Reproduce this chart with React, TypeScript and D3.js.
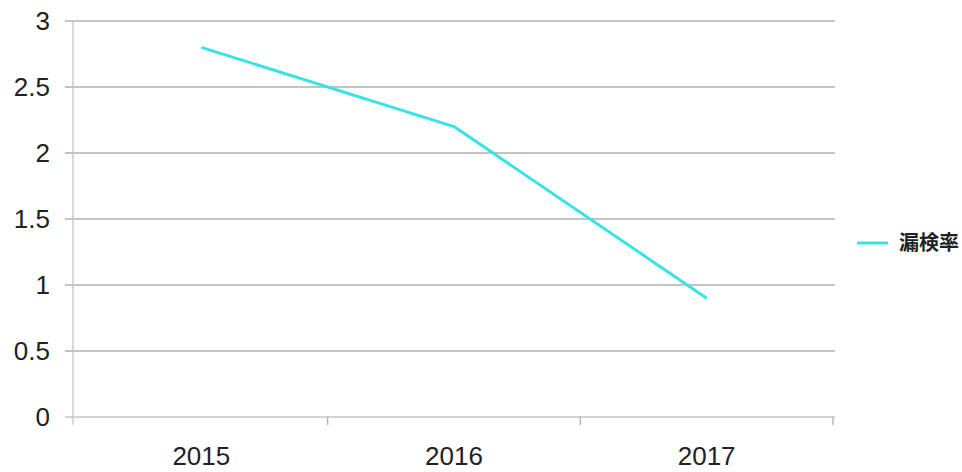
import { useEffect, useRef } from "react";
import * as d3 from "d3";

const years = ["2015", "2016", "2017"];
const missRate = [2.8, 2.2, 0.9];
const seriesName = "漏検率";
const yTicks = [0, 0.5, 1, 1.5, 2, 2.5, 3];

export default function App() {
  const svgRef = useRef<SVGSVGElement>(null);

  useEffect(() => {
    const width = 962;
    const height = 472;
    const margin = { top: 21, right: 129, bottom: 55, left: 75 };

    const svg = d3.select(svgRef.current)
      .attr("width", width)
      .attr("height", height)
      .style("background", "#ffffff")
      .style("display", "block");

    svg.selectAll("*").remove();

    const x = d3.scaleBand()
      .domain(years)
      .range([margin.left, width - margin.right]);

    const y = d3.scaleLinear()
      .domain([0, 3])
      .range([height - margin.bottom, margin.top]);

    const font = "'Liberation Sans', Arial, sans-serif";

    // Grid lines
    svg.append("g")
      .selectAll("line")
      .data(yTicks)
      .join("line")
      .attr("x1", margin.left - 10)
      .attr("x2", width - margin.right + 2)
      .attr("y1", d => y(d))
      .attr("y2", d => y(d))
      .attr("stroke", d => (d === 0 ? "#c4c4c4" : "#b0b0b0"))
      .attr("stroke-width", 1.3);

    // Y labels
    svg.append("g")
      .selectAll("text")
      .data(yTicks)
      .join("text")
      .attr("x", 50)
      .attr("y", d => y(d))
      .attr("dy", "0.36em")
      .attr("text-anchor", "end")
      .attr("font-family", font)
      .attr("font-size", 26)
      .attr("fill", "#222")
      .text(d => d3.format("~g")(d));

    // Y axis line
    svg.append("line")
      .attr("x1", margin.left - 2)
      .attr("x2", margin.left - 2)
      .attr("y1", margin.top)
      .attr("y2", y(0) + 8)
      .attr("stroke", "#c4c4c4")
      .attr("stroke-width", 1.3);

    // X tick marks at band edges
    const edges = years.map(d => x(d)!).concat([x(years[years.length - 1])! + x.bandwidth()]);
    svg.append("g")
      .selectAll("line")
      .data(edges.slice(1))
      .join("line")
      .attr("x1", d => d)
      .attr("x2", d => d)
      .attr("y1", y(0))
      .attr("y2", y(0) + 8)
      .attr("stroke", "#b0b0b0")
      .attr("stroke-width", 1.3);

    // X labels
    svg.append("g")
      .selectAll("text")
      .data(years)
      .join("text")
      .attr("x", d => x(d)! + x.bandwidth() / 2)
      .attr("y", 465)
      .attr("text-anchor", "middle")
      .attr("font-family", font)
      .attr("font-size", 26)
      .attr("fill", "#222")
      .text(d => d);

    // Line
    const line = d3.line<number>()
      .x((_, i) => x(years[i])! + x.bandwidth() / 2)
      .y(d => y(d));

    svg.append("path")
      .datum(missRate)
      .attr("fill", "none")
      .attr("stroke", "#3ae3e3")
      .attr("stroke-width", 3)
      .attr("stroke-linejoin", "round")
      .attr("d", line);

    // Legend
    const lg = svg.append("g").attr("transform", "translate(857, 243)");
    lg.append("line")
      .attr("x1", 0)
      .attr("x2", 31)
      .attr("stroke", "#3ae3e3")
      .attr("stroke-width", 3);
    lg.append("text")
      .attr("x", 42)
      .attr("dy", "0.36em")
      .attr("font-family", "'Noto Sans CJK JP', sans-serif")
      .attr("font-size", 20)
      .attr("font-weight", 600)
      .attr("fill", "#222")
      .text(seriesName);
  }, []);

  return <svg ref={svgRef} style={{ position: "absolute", left: 0, top: 0 }}></svg>;
}
